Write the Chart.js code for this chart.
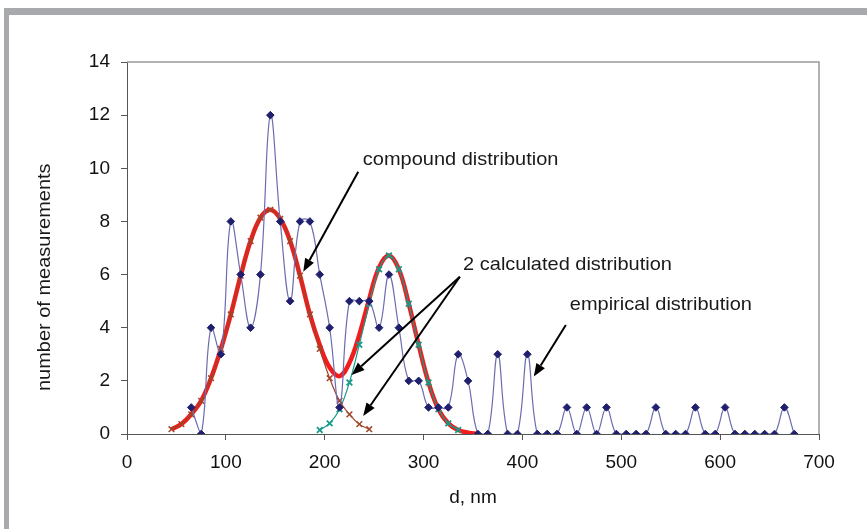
<!DOCTYPE html>
<html>
<head>
<meta charset="utf-8">
<script src="https://cdn.jsdelivr.net/npm/chart.js@4.4.1/dist/chart.umd.min.js"></script>
<style>
  html, body { margin: 0; padding: 0; background: #fff; }
</style>
</head>
<body>
<canvas id="chart" width="867" height="529"></canvas>
<script>
// Empirical distribution (measured counts)
const empX = [65, 75, 85, 95, 105, 115, 125, 135, 145, 155, 165, 175, 185, 195, 205, 215, 225, 235, 245, 255,
  265, 275, 285, 295, 305, 315, 325, 335, 345, 355, 365, 375, 385, 395, 405, 415, 425, 435, 445, 455,
  465, 475, 485, 495, 505, 515, 525, 535, 545, 555, 565, 575, 585, 595, 605, 615, 625, 635, 645, 655, 665, 675];
const empY = [1, 0, 4, 3, 8, 6, 4, 6, 12, 8, 5, 8, 8, 6, 4, 1, 5, 5, 5, 4,
  6, 4, 2, 2, 1, 1, 1, 3, 2, 0, 0, 3, 0, 0, 3, 0, 0, 0, 1, 0,
  1, 0, 1, 0, 0, 0, 0, 1, 0, 0, 0, 1, 0, 0, 1, 0, 0, 0, 0, 0, 1, 0];

// First calculated distribution
const calc1X = [45, 55, 65, 75, 85, 95, 105, 115, 125, 135, 145, 155, 165, 175, 185, 195, 205, 215, 225, 235, 245];
const calc1Y = [0.18, 0.37, 0.74, 1.25, 2.1, 3.2, 4.5, 5.96, 7.26, 8.14, 8.44, 8.1, 7.26, 5.96, 4.5, 3.2, 2.1, 1.25, 0.74, 0.37, 0.18];

// Second calculated distribution
const calc2X = [195, 205, 215, 225, 235, 245, 255, 265, 275, 285, 295, 305, 315, 325, 335];
const calc2Y = [0.15, 0.4, 0.93, 1.94, 3.36, 4.9, 6.2, 6.72, 6.2, 4.9, 3.36, 1.94, 0.93, 0.4, 0.15];

// Compound distribution (sum of the two)
const compX = [45, 55, 65, 75, 85, 95, 105, 115, 125, 135, 145, 155, 165, 175, 185, 195, 205, 215, 225, 235,
  245, 255, 265, 275, 285, 295, 305, 315, 325, 335, 345, 355];
const compY = [0.18, 0.37, 0.74, 1.25, 2.1, 3.2, 4.5, 5.96, 7.26, 8.14, 8.44, 8.1, 7.26, 5.96, 4.5, 3.35, 2.5, 2.18, 2.68, 3.73,
  5.08, 6.27, 6.72, 6.2, 4.9, 3.36, 1.94, 0.93, 0.4, 0.15, 0.05, 0.01];

// Axis ticks
const xTicks = [0, 100, 200, 300, 400, 500, 600, 700];
const yTicks = [0, 2, 4, 6, 8, 10, 12, 14];

// Text labels with arrows (in data units)
const notes = [
  { text: 'compound distribution', x: 238.6, y: 10.31, arrows: [[233.9, 9.87, 178.3, 6.11]] },
  { text: '2 calculated distribution', x: 340, y: 6.36, arrows: [[336.7, 5.92, 227.2, 2.22], [336.7, 5.92, 238.9, 0.68]] },
  { text: 'empirical distribution', x: 447.9, y: 4.84, arrows: [[443.9, 4.10, 411.5, 2.16]] }
];
const yTitle = 'number of measurements';

const FONT = '"Liberation Sans", Arial, sans-serif';
const STRETCH = 1.08; // text in the picture is a bit wider than plain Arial
const toPoints = (xs, ys) => xs.map((x, i) => ({ x: x, y: ys[i] }));

// Frame, plot border, y title and annotations
const extras = {
  id: 'extras',
  beforeDraw(chart) {
    const ctx = chart.ctx;
    ctx.save();
    ctx.fillStyle = '#fff';
    ctx.fillRect(0, 0, chart.width, chart.height);
    ctx.fillStyle = '#a7a9ac';
    ctx.fillRect(4, 8, 5, chart.height - 8);
    ctx.fillRect(4, 8, chart.width - 4, 7);
    ctx.restore();
  },
  afterDraw(chart) {
    const ctx = chart.ctx;
    const a = chart.chartArea;
    const xs = chart.scales.x, ys = chart.scales.y;
    ctx.save();
    ctx.strokeStyle = '#9a9a9a';
    ctx.lineWidth = 1.5;
    ctx.beginPath();
    ctx.moveTo(a.left, a.top);
    ctx.lineTo(a.right, a.top);
    ctx.lineTo(a.right, a.bottom);
    ctx.stroke();

    ctx.font = '18.5px ' + FONT;
    ctx.fillStyle = '#1a1a1a';
    ctx.textBaseline = 'middle';

    // y axis title
    ctx.save();
    ctx.translate(45, ys.getPixelForValue(5.9));
    ctx.rotate(-Math.PI / 2);
    ctx.scale(STRETCH, 1);
    ctx.textAlign = 'center';
    ctx.fillText(yTitle, 0, 0);
    ctx.restore();

    ctx.textAlign = 'left';
    notes.forEach(n => {
      ctx.save();
      ctx.translate(xs.getPixelForValue(n.x), ys.getPixelForValue(n.y));
      ctx.scale(STRETCH, 1);
      ctx.fillText(n.text, 0, 0);
      ctx.restore();
      n.arrows.forEach(ar => {
        const x0 = xs.getPixelForValue(ar[0]), y0 = ys.getPixelForValue(ar[1]);
        const x1 = xs.getPixelForValue(ar[2]), y1 = ys.getPixelForValue(ar[3]);
        const ang = Math.atan2(y1 - y0, x1 - x0);
        const len = 13, half = 5;
        const bx = x1 - len * Math.cos(ang), by = y1 - len * Math.sin(ang);
        ctx.strokeStyle = '#000';
        ctx.lineWidth = 2;
        ctx.beginPath();
        ctx.moveTo(x0, y0);
        ctx.lineTo(bx, by);
        ctx.stroke();
        ctx.fillStyle = '#000';
        ctx.beginPath();
        ctx.moveTo(x1, y1);
        ctx.lineTo(bx + half * Math.sin(ang), by - half * Math.cos(ang));
        ctx.lineTo(bx - half * Math.sin(ang), by + half * Math.cos(ang));
        ctx.closePath();
        ctx.fill();
        ctx.fillStyle = '#1a1a1a';
      });
    });
    ctx.restore();
  }
};

new Chart(document.getElementById('chart'), {
  type: 'line',
  data: {
    datasets: [{
      label: 'empirical distribution',
      data: toPoints(empX, empY),
      borderColor: '#6c6cb0',
      borderWidth: 1.2,
      tension: 0.4,
      pointStyle: 'rectRot',
      pointRadius: 3.8,
      pointBackgroundColor: '#1f1f6e',
      pointBorderColor: '#1f1f6e',
      pointBorderWidth: 1
    }, {
      label: 'calculated 1',
      data: toPoints(calc1X, calc1Y),
      borderColor: '#a0452a',
      borderWidth: 1.2,
      tension: 0.4,
      pointStyle: 'crossRot',
      pointRadius: 4,
      pointBorderColor: '#a0452a',
      pointBorderWidth: 1.5
    }, {
      label: 'calculated 2',
      data: toPoints(calc2X, calc2Y),
      borderColor: '#169a8a',
      borderWidth: 1.2,
      tension: 0.4,
      pointStyle: 'crossRot',
      pointRadius: 4,
      pointBorderColor: '#169a8a',
      pointBorderWidth: 1.8
    }, {
      label: 'compound distribution',
      data: toPoints(compX, compY),
      borderColor: '#f21c1c',
      borderWidth: 4.5,
      tension: 0.4,
      pointRadius: 0
    }]
  },
  options: {
    responsive: false,
    devicePixelRatio: 1,
    animation: false,
    layout: { padding: { left: 30, top: 62, right: 48, bottom: 16 } },
    plugins: { legend: { display: false }, tooltip: { enabled: false } },
    scales: {
      x: {
        type: 'linear',
        min: xTicks[0],
        max: xTicks[xTicks.length - 1],
        afterBuildTicks: s => { s.ticks = xTicks.map(v => ({ value: v })); },
        afterFit: s => { s.height = 79; },
        ticks: { color: '#111', font: { family: FONT, size: 19 }, padding: 11, maxRotation: 0 },
        grid: { drawOnChartArea: false, tickLength: 6, color: '#555' },
        border: { color: '#555', width: 1 },
        title: { display: true, text: 'd, nm', color: '#111', font: { family: FONT, size: 19 } }
      },
      y: {
        min: yTicks[0],
        max: yTicks[yTicks.length - 1],
        afterBuildTicks: s => { s.ticks = yTicks.map(v => ({ value: v })); },
        afterFit: s => { s.width = 97; },
        ticks: { color: '#111', font: { family: FONT, size: 19 }, padding: 11 },
        grid: { drawOnChartArea: false, tickLength: 6, color: '#555' },
        border: { color: '#555', width: 1 },
        title: { display: false }
      }
    }
  },
  plugins: [extras]
});
</script>
</body>
</html>
